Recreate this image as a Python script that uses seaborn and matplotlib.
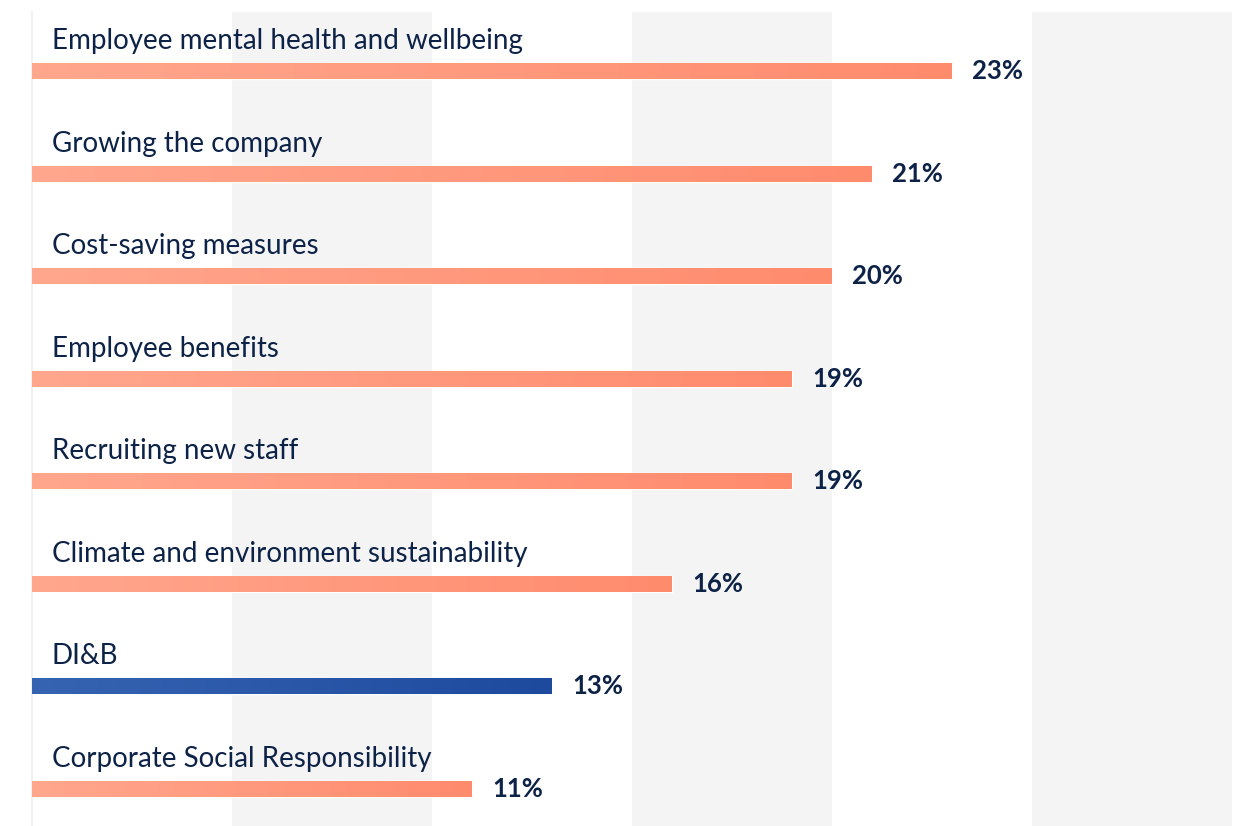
import numpy as np
import pandas as pd
import matplotlib
matplotlib.use("Agg")
import matplotlib.pyplot as plt
from matplotlib.colors import LinearSegmentedColormap
import seaborn as sns

# Survey topics and their share of responses (%)
categories = [
    "Employee mental health and wellbeing",
    "Growing the company",
    "Cost-saving measures",
    "Employee benefits",
    "Recruiting new staff",
    "Climate and environment sustainability",
    "DI&B",
    "Corporate Social Responsibility",
]
values = [23, 21, 20, 19, 19, 16, 13, 11]
highlight = "DI&B"
value_labels = [f"{v}%" for v in values]

TEXT = "#0d2247"

sns.set_theme(style="white")
plt.rcParams["font.family"] = ["Lato", "DejaVu Sans"]

W, H = 1235, 826
fig = plt.figure(figsize=(W / 100, H / 100), dpi=100)
ax = fig.add_axes([32 / W, 0, 1200 / W, 814 / H])

df = pd.DataFrame({"topic": categories, "share": values})
df["group"] = np.where(df["topic"] == highlight, "focus", "other")

sns.barplot(
    data=df, x="share", y="topic", hue="group",
    palette={"focus": "#2a55a6", "other": "#ff997d"},
    width=0.156, dodge=False, legend=False, saturation=1,
    order=categories, ax=ax, zorder=2,
)

# collect the drawn bars, keyed by their category row
bars = {}
for container in ax.containers:
    for patch in container:
        w = patch.get_width()
        if np.isfinite(w) and w > 0:
            row = int(round(patch.get_y() + patch.get_height() / 2))
            bars[row] = patch

# alternating background columns every 5 points
for start in (5, 15, 25):
    ax.axvspan(start, start + 5, color="#f4f4f4", zorder=0, lw=0)

# horizontal colour gradient inside each bar
ramps = {
    "focus": LinearSegmentedColormap.from_list("blue", ["#3664b2", "#1e4a9e"]),
    "other": LinearSegmentedColormap.from_list("salmon", ["#ffa78e", "#ff8b6d"]),
}
grad = np.linspace(0, 1, 256).reshape(1, -1)
for row, patch in bars.items():
    x0, y0 = patch.get_x(), patch.get_y()
    w, h = patch.get_width(), patch.get_height()
    key = "focus" if categories[row] == highlight else "other"
    im = ax.imshow(grad, cmap=ramps[key], aspect="auto",
                   extent=(x0, x0 + w, y0 + h, y0), zorder=3)
    im.set_clip_path(patch)

for i, (cat, v, lab) in enumerate(zip(categories, values, value_labels)):
    ax.annotate(cat, xy=(0, i), xytext=(20, 22), textcoords="offset pixels",
                ha="left", va="baseline", fontsize=20, color=TEXT, zorder=4)
    ax.annotate(lab, xy=(v, i), xytext=(20, -8), textcoords="offset pixels",
                ha="left", va="baseline", fontsize=18.5, fontweight="bold",
                color=TEXT, zorder=4)

ax.set_xlim(0, 30)
ax.set_ylim(7.36, -0.575)
ax.set_xlabel("")
ax.set_ylabel("")
ax.set_xticks([])
ax.set_yticks([])
for side in ("top", "right", "bottom"):
    ax.spines[side].set_visible(False)
ax.spines["left"].set_color("#efefef")
ax.spines["left"].set_linewidth(1.2)
ax.set_facecolor("white")

fig.savefig("out.png", dpi=100)
